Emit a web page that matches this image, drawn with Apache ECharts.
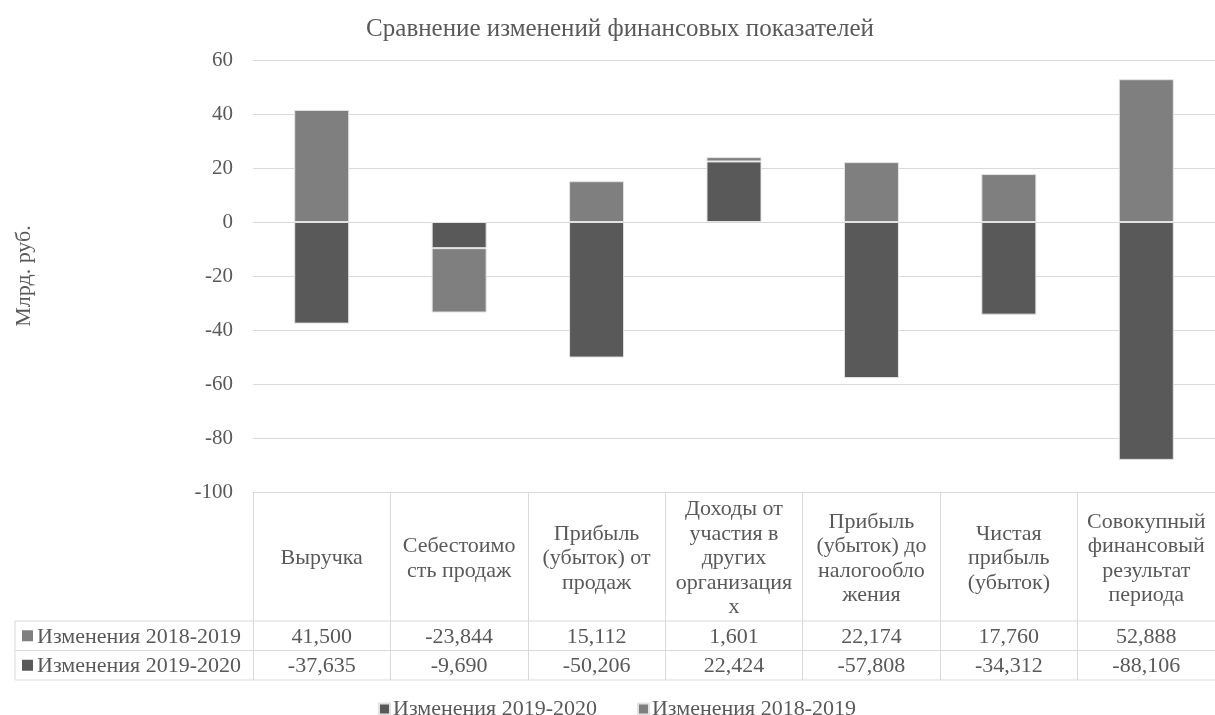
<!DOCTYPE html>
<html>
<head>
<meta charset="utf-8">
<script src="https://cdn.jsdelivr.net/npm/echarts@6/dist/echarts.min.js"></script>
<style>
html,body{margin:0;padding:0;background:#fff;}
#chart{width:1215px;height:715px;}
</style>
</head>
<body>
<div id="chart"></div>
<script>
var categories = [
  'Выручка',
  'Себестоимо\nсть продаж',
  'Прибыль\n(убыток) от\nпродаж',
  'Доходы от\nучастия в\nдругих\nорганизация\nх',
  'Прибыль\n(убыток) до\nналогообло\nжения',
  'Чистая\nприбыль\n(убыток)',
  'Совокупный\nфинансовый\nрезультат\nпериода'
];
var seriesNames = ['Изменения 2018-2019', 'Изменения 2019-2020'];
var values2018_2019 = [41.500, -23.844, 15.112, 1.601, 22.174, 17.760, 52.888];
var values2019_2020 = [-37.635, -9.690, -50.206, 22.424, -57.808, -34.312, -88.106];
var yTicks = {min: -100, max: 60, interval: 20};
var chartTitle = 'Сравнение изменений финансовых показателей';
var yAxisName = 'Млрд. руб.';

var FONT = 'Liberation Serif';
var TXT = '#595959';
var LIGHT = '#7f7f7f';
var DARK = '#595959';
var BORDER = '#d9d9d9';
var FS = 22;

var G = {left: 253, top: 60, width: 972, height: 432};
var headerH = 129, rowH = 29.5;
var row1Y = G.top + G.height + headerH;
var row2Y = row1Y + rowH;
var tableBottom = row2Y + rowH;
var tableLeft = 15;

function fmt(v) { return v.toFixed(3).replace('.', ','); }

var chart = echarts.init(document.getElementById('chart'), null, {renderer: 'canvas'});

var labelBase = {color: TXT, fontFamily: FONT, fontSize: FS, verticalAlign: 'middle', interval: 0, lineHeight: 24.5};

var graphics = [];
[row1Y, row2Y, tableBottom].forEach(function (y) {
  graphics.push({type: 'line', shape: {x1: tableLeft, y1: y, x2: G.left + G.width, y2: y},
    style: {stroke: BORDER, lineWidth: 1}, silent: true});
});
graphics.push({type: 'line', shape: {x1: tableLeft, y1: row1Y, x2: tableLeft, y2: tableBottom},
  style: {stroke: BORDER, lineWidth: 1}, silent: true});
[[seriesNames[0], LIGHT, row1Y], [seriesNames[1], DARK, row2Y]].forEach(function (r) {
  graphics.push({type: 'rect', shape: {x: 22, y: r[2] + rowH / 2 - 5.5, width: 11, height: 11},
    style: {fill: r[1]}, silent: true});
  graphics.push({type: 'text', x: 37, y: r[2] + rowH / 2 + 1,
    style: {text: r[0], fill: TXT, font: FS + 'px "' + FONT + '"', verticalAlign: 'middle', align: 'left'}, silent: true});
});

var option = {
  backgroundColor: '#ffffff',
  animation: false,
  title: {
    text: chartTitle, left: 615, top: 12, textAlign: 'center',
    textStyle: {color: TXT, fontFamily: FONT, fontSize: 25, fontWeight: 'normal'}
  },
  legend: {
    data: [seriesNames[1], seriesNames[0]],
    left: 373, top: 693, icon: 'rect', itemWidth: 11, itemHeight: 11, itemGap: 40,
    textStyle: {color: TXT, fontFamily: FONT, fontSize: FS, padding: [0, 0, 0, -2]}
  },
  grid: {left: G.left, top: G.top, width: G.width, height: G.height, containLabel: false},
  xAxis: [
    {
      type: 'category', data: categories, position: 'bottom',
      axisLine: {show: true, onZero: false, lineStyle: {color: BORDER}},
      axisTick: {show: true, length: headerH + 2 * rowH, interval: 0, lineStyle: {color: BORDER}},
      axisLabel: Object.assign({margin: headerH / 2 + 2}, labelBase)
    },
    {
      type: 'category', data: categories, position: 'bottom', gridIndex: 0,
      axisLine: {show: false, onZero: false}, axisTick: {show: false},
      axisLabel: Object.assign({}, labelBase, {margin: headerH + rowH / 2 + 1,
        formatter: function (v, i) { return fmt(values2018_2019[i]); }})
    },
    {
      type: 'category', data: categories, position: 'bottom', gridIndex: 0,
      axisLine: {show: false, onZero: false}, axisTick: {show: false},
      axisLabel: Object.assign({}, labelBase, {margin: headerH + rowH * 1.5 + 1,
        formatter: function (v, i) { return fmt(values2019_2020[i]); }})
    }
  ],
  yAxis: {
    type: 'value', min: yTicks.min, max: yTicks.max, interval: yTicks.interval,
    name: yAxisName, nameLocation: 'middle', nameGap: 218, nameRotate: 90,
    nameTextStyle: {color: TXT, fontFamily: FONT, fontSize: FS},
    axisLine: {show: false}, axisTick: {show: false},
    axisLabel: {color: TXT, fontFamily: FONT, fontSize: 21, margin: 20},
    splitLine: {lineStyle: {color: BORDER, width: 1}}
  },
  series: [
    {
      name: seriesNames[1], type: 'bar', stack: 'total', data: values2019_2020, barWidth: 55,
      itemStyle: {color: DARK, borderColor: '#e3e3e3', borderWidth: 1}
    },
    {
      name: seriesNames[0], type: 'bar', stack: 'total', data: values2018_2019, barWidth: 55,
      itemStyle: {color: LIGHT, borderColor: '#e3e3e3', borderWidth: 1}
    }
  ],
  graphic: graphics
};
chart.setOption(option);
</script>
</body>
</html>
